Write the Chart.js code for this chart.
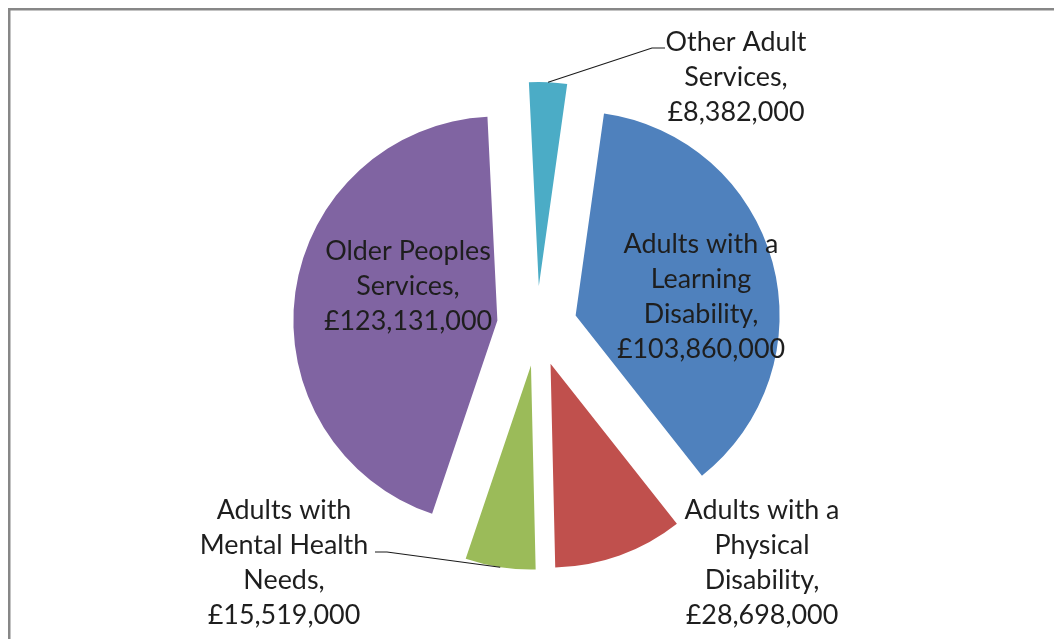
<!DOCTYPE html>
<html>
<head>
<meta charset="utf-8">
<script src="https://cdn.jsdelivr.net/npm/chart.js@4"></script>
<style>
  html, body { margin: 0; padding: 0; background: #ffffff; overflow: hidden; }
  #wrap { position: relative; width: 1054px; height: 639px; }
</style>
</head>
<body>
<div id="wrap"><canvas id="c" width="1054" height="639"></canvas></div>
<script>
// Adult social care spend by service area (£)
const categories = [
  'Adults with a Learning Disability',
  'Adults with a Physical Disability',
  'Adults with Mental Health Needs',
  'Older Peoples Services',
  'Other Adult Services'
];
const spend = [103860000, 28698000, 15519000, 123131000, 8382000];
const sliceColours = ['#4F81BD', '#C0504D', '#9BBB59', '#8064A2', '#4BACC6'];

// Category name broken over lines, as printed in each label
const nameLines = [
  ['Adults with a', 'Learning', 'Disability,'],
  ['Adults with a', 'Physical', 'Disability,'],
  ['Adults with', 'Mental Health', 'Needs,'],
  ['Older Peoples', 'Services,'],
  ['Other Adult', 'Services,']
];

// Label block placement: centre x and first-line y; leader = elbow points
const labelSpots = [
  { x: 701, y: 244 },
  { x: 762, y: 510 },
  { x: 284, y: 510, leader: [[387, 552], [375, 552]] },
  { x: 408, y: 251 },
  { x: 736, y: 42,  leader: [[652, 48], [665, 48]] }
];

const EXPLODE = 40;      // px each slice is pulled out from the centre
const LINE_H = 35;       // label line spacing
const TEXT_COL = '#1e1e1e';

const money = v => '£' + v.toLocaleString('en-GB');

function midAngle(a) { return (a.startAngle + a.endAngle) / 2; }

const framePlugin = {
  id: 'frame',
  beforeDraw(chart) {
    const ctx = chart.ctx;
    ctx.save();
    ctx.fillStyle = '#ffffff';
    ctx.fillRect(0, 0, chart.width, chart.height);
    ctx.fillStyle = '#878787';
    ctx.fillRect(8, 8, chart.width, 2.5);
    ctx.fillRect(8, 8, 2.5, chart.height);
    ctx.restore();
  }
};

// Draw each slice pulled out along its own bisector
const explodePlugin = {
  id: 'explode',
  beforeDatasetDraw(chart, args) {
    const ctx = chart.ctx;
    const meta = chart.getDatasetMeta(args.index);
    meta.data.forEach(arc => {
      const m = midAngle(arc);
      ctx.save();
      ctx.translate(Math.cos(m) * EXPLODE, Math.sin(m) * EXPLODE);
      arc.draw(ctx);
      ctx.restore();
    });
    return false;
  }
};

const labelPlugin = {
  id: 'sliceLabels',
  afterDatasetsDraw(chart) {
    const ctx = chart.ctx;
    const meta = chart.getDatasetMeta(0);
    // size the face so "Adults with a" spans about 155px
    ctx.save();
    ctx.font = '29px Lato, "Open Sans", sans-serif';
    const w = ctx.measureText('Adults with a').width;
    const size = Math.round(29 * 155 / w * 10) / 10;
    ctx.font = size + 'px Lato, "Open Sans", sans-serif';
    ctx.textAlign = 'center';
    ctx.textBaseline = 'middle';

    meta.data.forEach((arc, i) => {
      const spot = labelSpots[i];
      if (spot.leader) {
        const m = midAngle(arc);
        const r = arc.outerRadius + EXPLODE;
        const ax = arc.x + Math.cos(m) * r;
        const ay = arc.y + Math.sin(m) * r;
        ctx.beginPath();
        ctx.moveTo(ax, ay);
        spot.leader.forEach(p => ctx.lineTo(p[0], p[1]));
        ctx.strokeStyle = '#1a1a1a';
        ctx.lineWidth = 1.1;
        ctx.stroke();
      }
      const lines = nameLines[i].concat([money(spend[i])]);
      ctx.fillStyle = TEXT_COL;
      lines.forEach((t, k) => ctx.fillText(t, spot.x, spot.y + k * LINE_H));
    });
    ctx.restore();
  }
};

new Chart(document.getElementById('c'), {
  type: 'pie',
  data: {
    labels: categories,
    datasets: [{
      data: spend,
      backgroundColor: sliceColours,
      borderWidth: 0,
      offset: 0,
      hoverOffset: 0
    }]
  },
  options: {
    responsive: false,
    animation: false,
    events: [],
    rotation: 8,
    radius: 204,
    layout: { padding: { left: 20, right: 0, top: 13, bottom: 0 } },
    plugins: {
      legend: { display: false },
      tooltip: { enabled: false }
    }
  },
  plugins: [framePlugin, explodePlugin, labelPlugin]
});
</script>
</body>
</html>
